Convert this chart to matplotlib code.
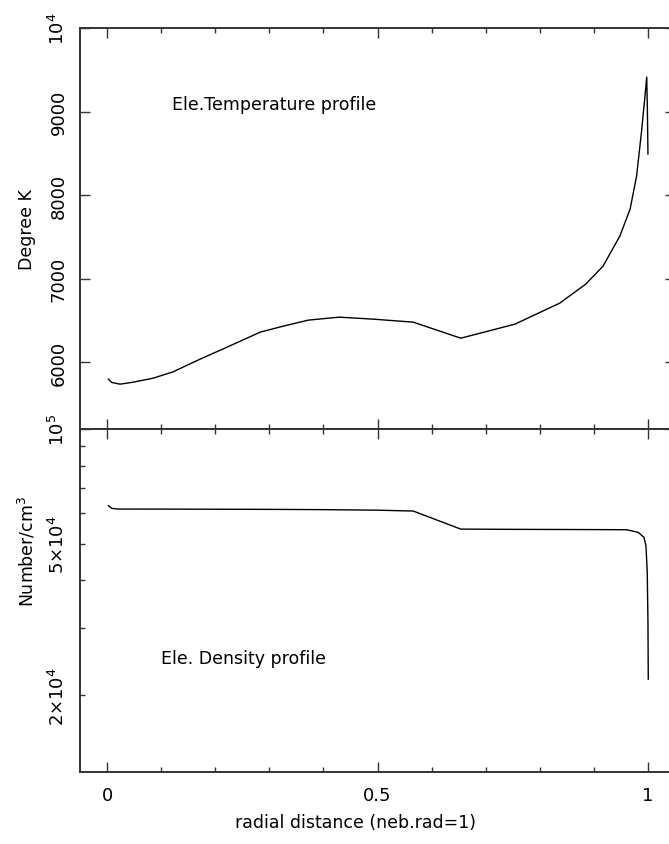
import numpy as np
import matplotlib
matplotlib.use("Agg")
import matplotlib.pyplot as plt
from matplotlib.ticker import FixedLocator, FixedFormatter

# electron temperature profile
r_temp = [0.0025, 0.0087, 0.024, 0.048, 0.085, 0.122, 0.172, 0.222, 0.283,
          0.325, 0.372, 0.429, 0.492, 0.566, 0.654, 0.754, 0.837, 0.885,
          0.917, 0.948, 0.967, 0.979, 0.988, 0.994, 0.9977, 0.9990, 1.0]
temp = [5797, 5757, 5737, 5760, 5808, 5884, 6036, 6180, 6359,
        6430, 6503, 6539, 6515, 6479, 6287, 6455, 6707, 6934,
        7150, 7509, 7832, 8228, 8754, 9150, 9413, 9000, 8491]

# electron density profile
r_dens = [0.0025, 0.0087, 0.02, 0.1, 0.2, 0.3, 0.4, 0.5, 0.566, 0.654,
          0.75, 0.85, 0.93, 0.9606, 0.982, 0.9926, 0.9963, 0.9987, 1.0, 1.0006]
dens = [62860, 61890, 61620, 61600, 61550, 61500, 61400, 61200, 60880, 54580,
        54500, 54450, 54400, 54370, 53530, 51930, 49350, 42100, 31100, 22030]

x_ticks = [0, 0.5, 1]
x_labels = ["0", "0.5", "1"]
temp_ticks = [6000, 7000, 8000, 9000, 10000]
temp_labels = ["6000", "7000", "8000", "9000", r"10$^4$"]
dens_minor = [2e4, 3e4, 4e4, 5e4, 6e4, 7e4, 8e4, 9e4]
dens_minor_labels = [r"2$\times$10$^4$", "", "", r"5$\times$10$^4$", "", "", "", ""]

W, H = 669, 845
fig = plt.figure(figsize=(W / 100, H / 100), dpi=100)

left, right = 80, 675
ax1 = fig.add_axes([left / W, (H - 430) / H, (right - left) / W, 401 / H])
ax2 = fig.add_axes([left / W, (H - 773) / H, (right - left) / W, 343 / H])

spine_col = "#333333"
for ax in (ax1, ax2):
    ax.set_xlim(-0.05, 1.05)
    ax.xaxis.set_major_locator(FixedLocator(x_ticks))
    ax.xaxis.set_major_formatter(FixedFormatter(x_labels))
    ax.xaxis.set_minor_locator(FixedLocator(np.arange(0.1, 1.0, 0.1)))
    for s in ax.spines.values():
        s.set_linewidth(1.4)
        s.set_color(spine_col)
    ax.tick_params(which="both", direction="in", top=True, right=True,
                   color=spine_col, width=1.0, labelsize=13)
    ax.tick_params(which="major", length=7.2)
    ax.tick_params(which="minor", length=3.8)
    ax.tick_params(axis="y", which="both", pad=9)

# top panel: temperature
ax1.plot(r_temp, temp, color="black", lw=1.0)
ax1.set_ylim(5200, 10000)
ax1.yaxis.set_major_locator(FixedLocator(temp_ticks))
ax1.yaxis.set_major_formatter(FixedFormatter(temp_labels))
ax1.tick_params(axis="x", labelbottom=False)
ax1.text(0.12, 9090, "Ele.Temperature profile", fontsize=12.5, va="center")

# bottom panel: density
ax2.plot(r_dens, dens, color="black", lw=1.0)
ax2.set_yscale("log")
ax2.set_ylim(12560, 1e5)
ax2.yaxis.set_major_locator(FixedLocator([1e5]))
ax2.yaxis.set_major_formatter(FixedFormatter([r"10$^5$"]))
ax2.yaxis.set_minor_locator(FixedLocator(dens_minor))
ax2.yaxis.set_minor_formatter(FixedFormatter(dens_minor_labels))
ax2.tick_params(axis="x", pad=10)
ax2.text(0.10, 25000, "Ele. Density profile", fontsize=12.5, va="center")

for ax in (ax1, ax2):
    for lab in ax.get_yticklabels(which="both"):
        lab.set_rotation(90)
        lab.set_va("center")

fig.text(27 / W, 1 - 230 / H, "Degree K", rotation=90, ha="center",
         va="center", fontsize=12.5)
fig.text(27 / W, 1 - 551 / H, r"Number/cm$^3$", rotation=90, ha="center",
         va="center", fontsize=12.5)
fig.text(355 / W, 1 - 823 / H, "radial distance (neb.rad=1)", ha="center",
         va="center", fontsize=12.5)

fig.savefig("out.png", dpi=100)
